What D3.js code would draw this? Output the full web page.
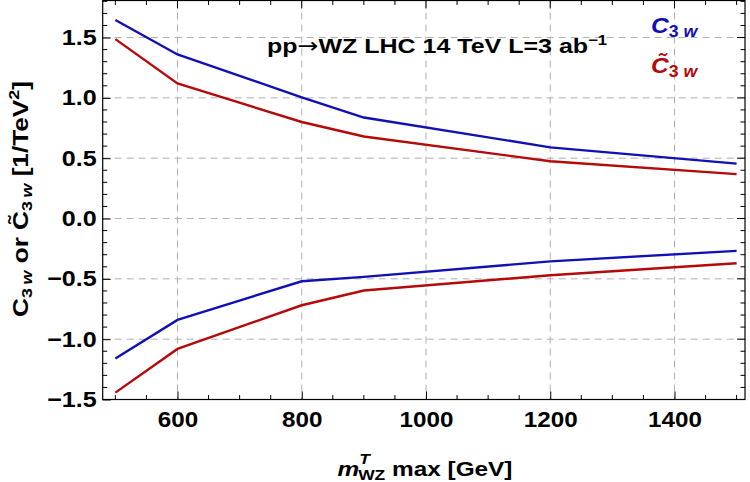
<!DOCTYPE html>
<html>
<head>
<meta charset="utf-8">
<script src="https://cdn.jsdelivr.net/npm/d3@7"></script>
<style>
  body { margin: 0; background: #fff; }
  svg { display: block; font-family: "Liberation Sans", Arial, sans-serif; }
  .axis text { font-family: "Liberation Sans", Arial, sans-serif; font-size: 22px; font-weight: bold; fill: #000; }
  .axis path, .axis line { stroke: #000; }
</style>
</head>
<body>
<div id="chart"></div>
<script>
// m_WZ^T max [GeV]
const mMax = [500, 600, 800, 900, 1200, 1500];
// C3W bounds (blue)
const c3wUpper = [1.645, 1.36, 1.005, 0.837, 0.59, 0.455];
const c3wLower = [-1.16, -0.84, -0.52, -0.484, -0.355, -0.268];
// tilde C3W bounds (red)
const c3wtUpper = [1.487, 1.119, 0.80, 0.68, 0.475, 0.368];
const c3wtLower = [-1.443, -1.081, -0.719, -0.597, -0.47, -0.371];

const xMajor = [600, 800, 1000, 1200, 1400];
const yMajor = [-1.5, -1.0, -0.5, 0.0, 0.5, 1.0, 1.5];
const xMinor = d3.range(500, 1501, 50).filter(v => !xMajor.includes(v));
const yMinor = d3.range(-15, 19, 1).map(v => v / 10).filter(v => !yMajor.some(m => Math.abs(m - v) < 1e-9));

const blue = "#1010b4", red = "#b40a0a";

const width = 750, height = 482;
const pLeft = 102.7, pRight = 745, pTop = 0.5, pBottom = 399.5;

const svg = d3.select("#chart").append("svg")
    .attr("width", width)
    .attr("height", height);

const x = d3.scaleLinear().domain([479.6, 1513.5]).range([pLeft, pRight]);
const y = d3.scaleLinear().domain([-1.5, 1.807]).range([pBottom, pTop]);

// grid
svg.append("g").selectAll("line")
    .data(xMajor).enter().append("line")
    .attr("x1", d => x(d)).attr("x2", d => x(d))
    .attr("y1", pTop).attr("y2", pBottom)
    .attr("stroke", "#b0b0b0").attr("stroke-dasharray", "7,5");
svg.append("g").selectAll("line")
    .data(yMajor).enter().append("line")
    .attr("x1", pLeft).attr("x2", pRight)
    .attr("y1", d => y(d)).attr("y2", d => y(d))
    .attr("stroke", "#b0b0b0").attr("stroke-dasharray", "7,5");

// lines
const line = vals => d3.line()
    .x((d, i) => x(mMax[i]))
    .y(d => y(d))(vals);
[[c3wUpper, blue], [c3wLower, blue], [c3wtUpper, red], [c3wtLower, red]].forEach(([vals, col]) => {
    svg.append("path")
        .attr("d", line(vals))
        .attr("fill", "none")
        .attr("stroke", col)
        .attr("stroke-width", 2.4);
});

// axes with inward ticks
svg.append("g").attr("class", "axis")
    .attr("transform", `translate(0,${pBottom})`)
    .call(d3.axisBottom(x).tickValues(xMajor).tickSize(-8).tickPadding(12).tickSizeOuter(0).tickFormat(d3.format("d")))
    .call(g => g.select(".domain").remove())
    .call(g => g.selectAll("text").attr("transform", "scale(1.1,1)"));
svg.append("g").attr("class", "axis")
    .attr("transform", `translate(${pLeft},0)`)
    .call(d3.axisLeft(y).tickValues(yMajor).tickSize(-8).tickPadding(6).tickSizeOuter(0))
    .call(g => g.select(".domain").remove())
    .call(g => g.selectAll("text")
        .attr("x", -6 / 1.14)
        .attr("transform", "scale(1.14,1)")
        .text(d => d3.format(".1f")(d).replace("-", "\u2212")));

const minorTicks = [
    { vals: xMinor, major: xMajor, horiz: true },
    { vals: yMinor, major: yMajor, horiz: false }
];
minorTicks.forEach(t => {
    const all = t.vals.map(v => ({ v, len: 4.5 })).concat(t.major.map(v => ({ v, len: 8 })));
    const g = svg.append("g").attr("stroke", "#000");
    all.forEach(d => {
        if (t.horiz) {
            if (d.len < 8) g.append("line").attr("x1", x(d.v)).attr("x2", x(d.v)).attr("y1", pBottom).attr("y2", pBottom - d.len);
            g.append("line").attr("x1", x(d.v)).attr("x2", x(d.v)).attr("y1", pTop).attr("y2", pTop + d.len);
        } else {
            if (d.len < 8) g.append("line").attr("x1", pLeft).attr("x2", pLeft + d.len).attr("y1", y(d.v)).attr("y2", y(d.v));
            g.append("line").attr("x1", pRight).attr("x2", pRight - d.len).attr("y1", y(d.v)).attr("y2", y(d.v));
        }
    });
});

// frame
svg.append("rect")
    .attr("x", pLeft).attr("y", pTop)
    .attr("width", pRight - pLeft).attr("height", pBottom - pTop)
    .attr("fill", "none").attr("stroke", "#000").attr("stroke-width", 1.2);

// title
const title = svg.append("text")
    .attr("transform", "translate(267,53) scale(1.19,1)")
    .attr("font-size", 21).attr("font-weight", "bold");
title.append("tspan").text("pp");
title.append("tspan").attr("font-family", "DejaVu Sans").attr("font-weight", "normal").text("\u2192");
title.append("tspan").text("WZ LHC 14 TeV L=3 ab");
title.append("tspan").attr("dy", -8).attr("font-size", 14).text("\u22121");

// legend
function cLabel(sel, tilde, col, size) {
    const t = sel.attr("fill", col).attr("font-weight", "bold");
    t.append("tspan").attr("font-style", "italic").attr("font-size", size).text(tilde ? "C\u0303" : "C");
    t.append("tspan").attr("font-size", size * 0.72).attr("dy", 4).text("3 ");
    t.append("tspan").attr("font-size", size * 0.72).attr("font-style", "italic").text("w");
    return t;
}
cLabel(svg.append("text").attr("transform", "translate(651,33) scale(1.12,1)"), false, blue, 22);
cLabel(svg.append("text").attr("transform", "translate(651,73) scale(1.12,1)"), true, red, 22);

// y label
const yl = svg.append("text")
    .attr("transform", "translate(28,199) rotate(-90) scale(1.19,1)")
    .attr("text-anchor", "middle")
    .attr("font-size", 22).attr("font-weight", "bold");
yl.append("tspan").text("C");
yl.append("tspan").attr("font-size", 15).attr("dy", 4).text("3\u2009");
yl.append("tspan").attr("font-size", 15).attr("font-style", "italic").text("w");
yl.append("tspan").attr("dy", -4).text(" or C\u0303");
yl.append("tspan").attr("font-size", 15).attr("dy", 4).text("3\u2009");
yl.append("tspan").attr("font-size", 15).attr("font-style", "italic").text("w");
yl.append("tspan").attr("dy", -4).text(" [1/TeV");
yl.append("tspan").attr("font-size", 15).attr("dy", -9).text("2");
yl.append("tspan").attr("dy", 9).text("]");

// x label
const xl = svg.append("text")
    .attr("transform", "translate(425,476) scale(1.16,1)")
    .attr("text-anchor", "middle")
    .attr("font-size", 21).attr("font-weight", "bold");
xl.append("tspan").attr("font-style", "italic").text("m");
xl.append("tspan").attr("font-size", 15).attr("font-style", "italic").attr("dy", -12).text("T");
xl.append("tspan").attr("font-size", 15).attr("dx", -10).attr("dy", 16).text("WZ");
xl.append("tspan").attr("dy", -4).text(" max [GeV]");
</script>
</body>
</html>
